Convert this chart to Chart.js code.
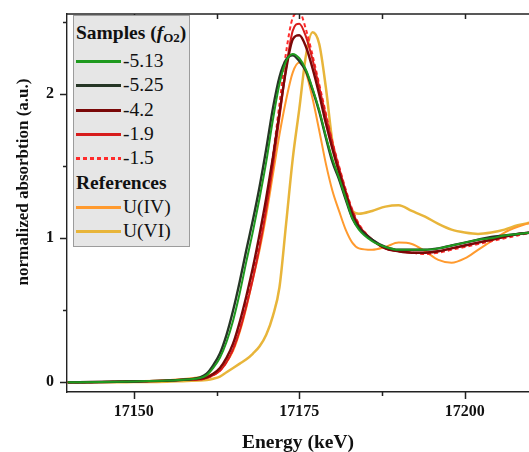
<!DOCTYPE html>
<html>
<head>
<meta charset="utf-8">
<script src="https://cdn.jsdelivr.net/npm/chart.js"></script>
<style>
    body { margin: 0; background: #fff; }
    #wrap { position: relative; width: 529px; height: 452px; overflow: hidden; }
    #legend {
        position: absolute; left: 73px; top: 15px; width: 117px; height: 232px;
        background: #e6e6e6; border: 1px solid #9c9c9c;
        font-family: "Liberation Serif", serif; font-size: 19.5px; color: #111;
        box-sizing: border-box;
    }
    #legend .line { position: absolute; left: 0; right: 0; height: 24px; line-height: 24px; }
    #legend .head { font-weight: bold; padding-left: 2px; }
    #legend .title sub { font-size: 13px; vertical-align: -3px; line-height: 0; }
    #legend .swatch { position: absolute; left: 2px; top: 11px; width: 45px; height: 2.5px; }
    #legend .line span { position: absolute; left: 49px; }
</style>
</head>
<body>
<div id="wrap">
    <canvas id="chart-1" width="529" height="452"></canvas>
    <div id="legend"></div>
</div>
<script>
const chart1 = document.getElementById('chart-1').getContext('2d');
const legendEl = document.getElementById('legend');

// energy grid (keV) shared by all curves
const energy = [17140, 17145, 17150, 17155, 17158, 17160, 17161, 17162, 17163, 17164, 17165, 17166, 17167, 17168,
    17169, 17170, 17171, 17172, 17173, 17174, 17175, 17176, 17177, 17178, 17179, 17180, 17181, 17182, 17183, 17184,
    17186, 17188, 17190, 17192, 17194, 17196, 17198, 17200, 17202, 17204, 17206, 17208, 17210];

// samples, log fO2
const absM513 = [0, 0.002, 0.006, 0.012, 0.02, 0.03, 0.05, 0.10, 0.17, 0.28, 0.43, 0.62, 0.84, 1.05,
    1.28, 1.53, 1.82, 2.07, 2.23, 2.28, 2.25, 2.17, 2.04, 1.89, 1.71, 1.55, 1.42, 1.28, 1.14, 1.06,
    0.98, 0.94, 0.92, 0.92, 0.92, 0.93, 0.95, 0.97, 0.99, 1.00, 1.02, 1.03, 1.04];
const absM525 = [0, 0.002, 0.006, 0.012, 0.02, 0.035, 0.06, 0.12, 0.20, 0.33, 0.50, 0.70, 0.92, 1.13,
    1.36, 1.62, 1.90, 2.12, 2.24, 2.27, 2.23, 2.16, 2.03, 1.88, 1.70, 1.53, 1.41, 1.27, 1.14, 1.07,
    0.99, 0.94, 0.92, 0.92, 0.92, 0.93, 0.95, 0.97, 0.99, 1.01, 1.02, 1.03, 1.04];
const absM42 = [0, 0.002, 0.006, 0.012, 0.02, 0.025, 0.035, 0.06, 0.10, 0.17, 0.27, 0.42, 0.60, 0.80,
    1.03, 1.28, 1.56, 1.87, 2.17, 2.38, 2.41, 2.33, 2.18, 2.00, 1.80, 1.62, 1.46, 1.31, 1.17, 1.08,
    0.99, 0.93, 0.91, 0.90, 0.90, 0.91, 0.93, 0.95, 0.97, 0.99, 1.01, 1.03, 1.04];
const absM19 = [0, 0.002, 0.006, 0.012, 0.018, 0.02, 0.03, 0.05, 0.08, 0.14, 0.23, 0.36, 0.53, 0.72,
    0.94, 1.20, 1.50, 1.84, 2.18, 2.44, 2.49, 2.40, 2.24, 2.05, 1.85, 1.66, 1.49, 1.33, 1.19, 1.09,
    0.99, 0.93, 0.91, 0.90, 0.90, 0.91, 0.93, 0.95, 0.97, 0.99, 1.01, 1.03, 1.04];
const absM15 = [0, 0.002, 0.006, 0.012, 0.018, 0.02, 0.03, 0.05, 0.08, 0.14, 0.23, 0.37, 0.55, 0.75,
    0.98, 1.25, 1.57, 1.93, 2.29, 2.53, 2.57, 2.45, 2.27, 2.07, 1.87, 1.67, 1.50, 1.34, 1.20, 1.10,
    0.99, 0.93, 0.91, 0.90, 0.89, 0.90, 0.92, 0.94, 0.96, 0.98, 1.00, 1.02, 1.04];

// references
const absUIV = [0, 0.002, 0.008, 0.015, 0.025, 0.035, 0.045, 0.06, 0.09, 0.14, 0.22, 0.35, 0.52, 0.72,
    0.92, 1.16, 1.44, 1.72, 1.96, 2.15, 2.22, 2.15, 1.97, 1.75, 1.52, 1.33, 1.19, 1.06, 0.97, 0.93,
    0.92, 0.94, 0.97, 0.96, 0.91, 0.85, 0.83, 0.86, 0.92, 0.98, 1.04, 1.08, 1.11];
const absUVI = [0, 0, 0.002, 0.005, 0.01, 0.012, 0.016, 0.025, 0.04, 0.07, 0.10, 0.13, 0.16, 0.20,
    0.25, 0.33, 0.46, 0.66, 1.10, 1.55, 1.90, 2.27, 2.43, 2.35, 2.05, 1.67, 1.45, 1.28, 1.19, 1.17,
    1.19, 1.22, 1.23, 1.19, 1.15, 1.10, 1.06, 1.04, 1.03, 1.04, 1.06, 1.09, 1.11];

const sampleLabels = ['-5.13', '-5.25', '-4.2', '-1.9', '-1.5'];
const referenceLabels = ['U(IV)', 'U(VI)'];
const xTicks = [17150, 17175, 17200];
const xMinorTicks = [17162.5, 17187.5];
const yTicks = [0, 1, 2];
const yMinorTicks = [0.5, 1.5, 2.5];

const series = [
    { label: sampleLabels[0], values: absM513, color: '#1f9a1f', width: 2, dashed: false },
    { label: sampleLabels[1], values: absM525, color: '#263626', width: 2.4, dashed: false },
    { label: sampleLabels[2], values: absM42, color: '#7a0808', width: 2.4, dashed: false },
    { label: sampleLabels[3], values: absM19, color: '#d71c1c', width: 2, dashed: false },
    { label: sampleLabels[4], values: absM15, color: '#ff2b2b', width: 2, dashed: true },
    { label: referenceLabels[0], values: absUIV, color: '#ff9a2e', width: 2, dashed: false },
    { label: referenceLabels[1], values: absUVI, color: '#e8b53a', width: 2.5, dashed: false },
];

const serif = '"Liberation Serif", "Times New Roman", serif';

// top frame, tick marks, axis titles
const framePlugin = {
    id: 'frame',
    afterDraw(chart) {
        const { ctx, chartArea: a, scales: { x, y } } = chart;
        ctx.save();
        ctx.strokeStyle = '#222';
        ctx.lineWidth = 1.5;
        ctx.beginPath();
        ctx.moveTo(a.left, a.top);
        ctx.lineTo(a.right, a.top);
        xTicks.concat(xMinorTicks).forEach(v => {
            const px = Math.round(x.getPixelForValue(v)) + 0.5;
            const len = xTicks.includes(v) ? 7 : 4;
            ctx.moveTo(px, a.top);
            ctx.lineTo(px, a.top + 5);
            ctx.moveTo(px, a.bottom);
            ctx.lineTo(px, a.bottom + len);
        });
        yTicks.concat(yMinorTicks).forEach(v => {
            const py = Math.round(y.getPixelForValue(v)) + 0.5;
            const len = yTicks.includes(v) ? 7 : 4;
            ctx.moveTo(a.left, py);
            ctx.lineTo(a.left - len, py);
        });
        ctx.stroke();

        ctx.fillStyle = '#111';
        ctx.textAlign = 'center';
        ctx.textBaseline = 'middle';
        ctx.font = 'bold 19.5px ' + serif;
        ctx.fillText('Energy (keV)', (a.left + a.right) / 2, 443);
        ctx.translate(24, 182);
        ctx.rotate(-Math.PI / 2);
        ctx.font = 'bold 17px ' + serif;
        ctx.fillText('normalized absorbtion (a.u.)', 0, 0);
        ctx.restore();
    }
};

var lineChart = new Chart(chart1, {
    type: 'line',
    data: {
        datasets: series.map(s => ({
            label: s.label,
            data: energy.map((e, i) => ({ x: e, y: s.values[i] })),
            borderColor: s.color,
            backgroundColor: s.color,
            borderWidth: s.width,
            borderDash: s.dashed ? [4, 3] : [],
            pointRadius: 0,
            cubicInterpolationMode: 'monotone',
            fill: false
        }))
    },
    options: {
        responsive: false,
        animation: false,
        layout: { padding: { top: 14, right: 0, left: 0, bottom: 0 } },
        plugins: { legend: { display: false }, tooltip: { enabled: false } },
        scales: {
            x: {
                type: 'linear',
                min: 17139.9,
                max: 17209.7,
                afterFit: s => { s.height = 60; s.paddingLeft = 0; s.paddingRight = 0; },
                afterBuildTicks: s => { s.ticks = xTicks.map(v => ({ value: v })); },
                ticks: {
                    autoSkip: false,
                    maxRotation: 0,
                    padding: 10,
                    color: '#111',
                    font: { family: serif, size: 16, weight: 'bold' },
                    callback: v => String(v)
                },
                grid: { drawOnChartArea: false, drawTicks: false },
                border: { color: '#222', width: 1.4 }
            },
            y: {
                min: -0.067,
                max: 2.557,
                afterFit: s => { s.width = 67; s.paddingTop = 0; s.paddingBottom = 0; },
                afterBuildTicks: s => { s.ticks = yTicks.map(v => ({ value: v })); },
                ticks: {
                    padding: 13,
                    color: '#111',
                    font: { family: serif, size: 16, weight: 'bold' },
                    callback: v => String(v)
                },
                grid: { drawOnChartArea: false, drawTicks: false },
                border: { color: '#222', width: 1.4 }
            }
        }
    },
    plugins: [framePlugin]
});

buildLegend(legendEl, series);

// rows sit on a fixed pitch inside the box (box top at 15, border 1)
function buildLegend(wrapper, items) {
    const rowTop = k => Math.round(61 + 24.3 * k - 12) - 16;
    var html = `<div class="line head title" style="top:${33 - 14 - 16}px;height:28px;line-height:28px">Samples (<i>f</i><sub>O2</sub>)</div>`;
    var k = 0;
    for (let i = 0; i < items.length; i++) {
        var s = items[i];
        if (s.label === referenceLabels[0]) {
            html += `<div class="line head" style="top:${rowTop(k)}px">References</div>`;
            k++;
        }
        var bg = s.dashed
            ? `repeating-linear-gradient(to right, ${s.color} 0 4px, transparent 4px 7px)`
            : s.color;
        html += `<div class="line" style="top:${rowTop(k)}px">
                    <div class="swatch" style="background:${bg}"></div>
                    <span>${s.label}</span>
                 </div>`;
        k++;
    }
    wrapper.innerHTML = html;
}
</script>
</body>
</html>
